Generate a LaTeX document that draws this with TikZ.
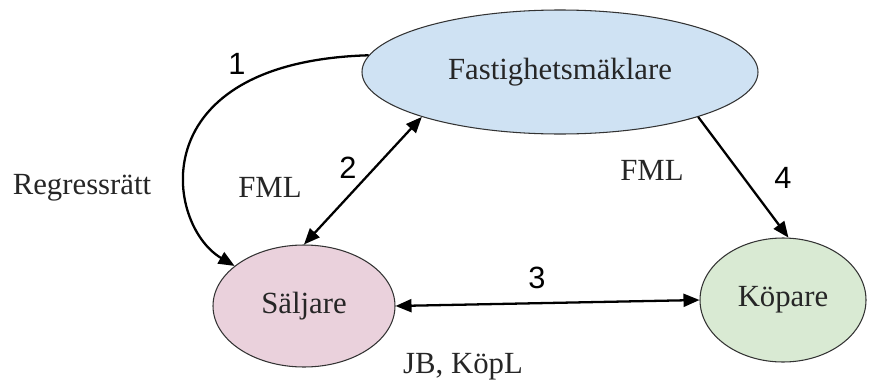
\documentclass[tikz,border=0pt]{standalone}
\usepackage{fontspec}
\setmainfont{Liberation Serif}
\newfontfamily\numfont{Liberation Sans}
\usepackage{xcolor}
\usetikzlibrary{positioning,shapes.geometric,arrows.meta}

\definecolor{maklblue}{HTML}{CFE2F3}
\definecolor{saljpink}{HTML}{EAD1DC}
\definecolor{kopgreen}{HTML}{D9EAD3}

\begin{document}
\begin{tikzpicture}[
  font=\fontsize{17.5}{20}\selectfont,
  >={Triangle[length=0.32cm,width=0.26cm]},
  arr/.style={->, line width=1.3pt},
  darr/.style={<->, line width=1.3pt},
  party/.style={ellipse, draw=black!80, line width=0.6pt, fill=#1,
                inner sep=0pt, text=black!85},
  lbl/.style={text=black!85},
  num/.style={font=\numfont\fontsize{17.5}{20}\selectfont},
]
\useasboundingbox (0,0) rectangle (17.38,-7.62);

%% ===== PARTIES =====
\node[party=maklblue, minimum width=7.92cm, minimum height=2.48cm] (makl) at (11.2,-1.44)
    {Fastighetsmäklare};

\node[party=saljpink, minimum width=3.64cm, minimum height=2.44cm] (salj) at (6.08,-6.12)
    {Säljare};

\node[party=kopgreen, minimum width=3.32cm, minimum height=2.48cm] (kop) at (15.66,-6.0)
    {Köpare};

%% ===== RELATIONS =====
\draw[arr] (makl.175) .. controls (2.8,-1.24) and (3.3,-4.5) .. (salj.150);
\draw[darr] (makl.198) -- (salj.north);
\draw[darr] (salj.east) -- (kop.west);
\draw[arr] (makl.342) -- (kop.85);

%% ===== LABELS =====
\node[num] (n1) at (4.74,-1.28) {1};
\node[num] (n2) at (6.96,-3.36) {2};
\node[num] (n3) at (10.74,-5.56) {3};
\node[num] (n4) at (15.66,-3.56) {4};

\node[lbl] (regress) at (1.64,-3.76) {Regressrätt};
\node[lbl] (fmlleft) at (5.4,-3.74) {FML};
\node[lbl] (fmlright) at (13.04,-3.4) {FML};
\node[lbl] (jb) at (9.26,-7.34) {JB, KöpL};

\end{tikzpicture}
\end{document}
